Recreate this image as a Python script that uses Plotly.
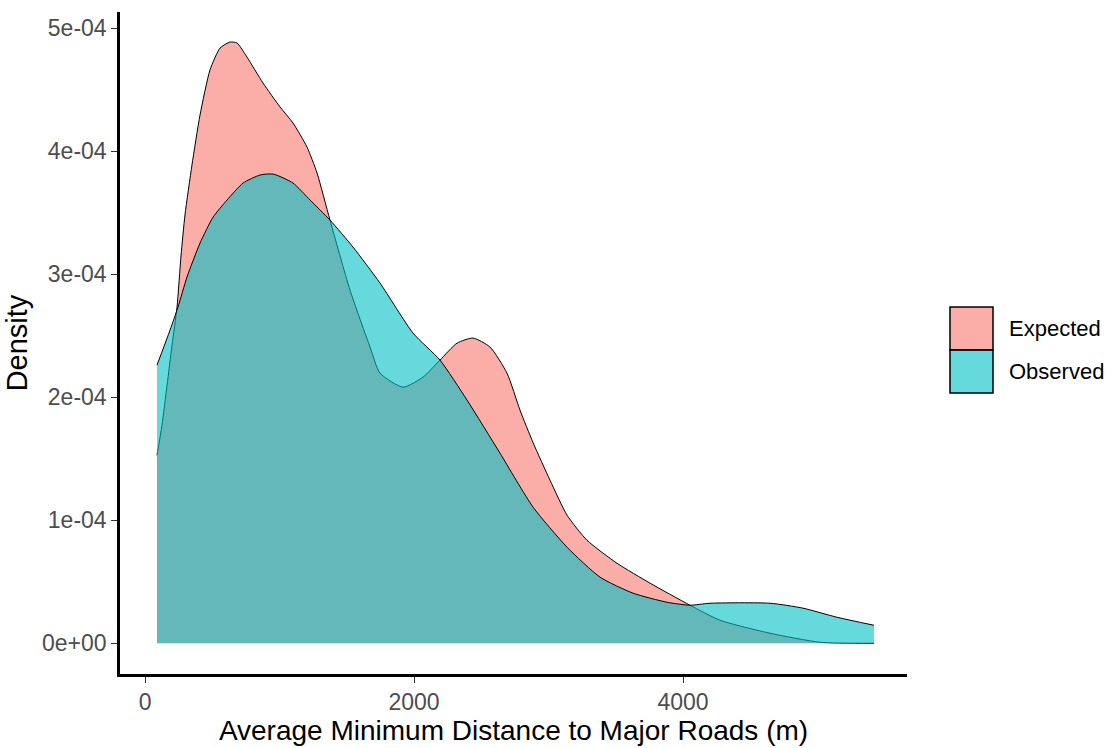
import plotly.graph_objects as go

# ---- data ----
expected_x = [89, 126, 164, 201, 238, 268, 297, 349, 409, 483, 558, 632, 684, 758, 877,
              1004, 1100, 1204, 1279, 1375, 1524, 1673, 1747, 1918, 2067, 2193, 2320,
              2439, 2565, 2691, 2788, 2885, 3011, 3138, 3286, 3509, 3755, 4052, 4275,
              4647, 5019, 5420]
expected_y = [1.528, 1.772, 2.098, 2.423, 2.732, 3.154, 3.480, 3.886, 4.293, 4.659, 4.837,
              4.886, 4.878, 4.764, 4.553, 4.358, 4.228, 4.033, 3.821, 3.439, 2.870, 2.407,
              2.195, 2.081, 2.163, 2.301, 2.439, 2.480, 2.407, 2.195, 1.894, 1.630, 1.325,
              1.040, 0.837, 0.650, 0.488, 0.309, 0.187, 0.081, 0.008, 0.0]
observed_x = [89, 186, 245, 312, 409, 506, 610, 729, 855, 952, 1100, 1227, 1375, 1546,
              1747, 1993, 2193, 2394, 2639, 2885, 3138, 3383, 3628, 3881, 4052, 4201,
              4647, 4892, 5145, 5420]
observed_y = [2.260, 2.545, 2.732, 2.976, 3.252, 3.463, 3.602, 3.740, 3.805, 3.813, 3.740,
              3.602, 3.439, 3.220, 2.927, 2.520, 2.301, 1.976, 1.545, 1.106, 0.780, 0.537,
              0.407, 0.333, 0.309, 0.325, 0.325, 0.285, 0.211, 0.146]
y_scale = 1e-4

groups = ["Expected", "Observed"]
x_ticks = [0, 2000, 4000]
x_tick_labels = ["0", "2000", "4000"]
y_ticks = [0, 1e-4, 2e-4, 3e-4, 4e-4, 5e-4]
y_tick_labels = ["0e+00", "1e-04", "2e-04", "3e-04", "4e-04", "5e-04"]

# ---- styling ----
FONT = "Arial, Liberation Sans, sans-serif"
fills = {"Expected": "rgba(248,118,109,0.6)", "Observed": "rgba(0,191,196,0.6)"}
W, H = 1113, 748
L, R, T, B = 120, 206, 12, 74

fig = go.Figure()
for name, xs, ys in [("Expected", expected_x, expected_y),
                     ("Observed", observed_x, observed_y)]:
    fig.add_trace(go.Scatter(
        x=xs, y=[v * y_scale for v in ys], name=name, mode="lines",
        line=dict(color="black", width=1, shape="spline", smoothing=0.6),
        fill="tozeroy", fillcolor=fills[name], showlegend=False,
        hoverinfo="skip"))

fig.update_layout(
    width=W, height=H,
    margin=dict(l=L, r=R, t=T, b=B),
    paper_bgcolor="white", plot_bgcolor="white",
    font=dict(family=FONT, color="black"),
    showlegend=False,
)
fig.update_xaxes(
    range=[-186, 5665], showgrid=False, zeroline=False, automargin=False,
    showline=True, linecolor="black", linewidth=2.5,
    tickmode="array", tickvals=x_ticks, ticktext=x_tick_labels,
    ticks="outside", ticklen=6, tickwidth=1, tickcolor="#333333",
    tickfont=dict(family=FONT, size=23, color="#4D4D4D"),
    title=dict(text="Average Minimum Distance to Major Roads (m)",
               font=dict(family=FONT, size=28, color="black"), standoff=6),
)
fig.update_yaxes(
    range=[-0.25e-4, 5.13e-4], showgrid=False, zeroline=False, automargin=False,
    showline=True, linecolor="black", linewidth=2.5,
    tickmode="array", tickvals=y_ticks, ticktext=y_tick_labels,
    ticks="outside", ticklen=6, tickwidth=1, tickcolor="#333333",
    tickfont=dict(family=FONT, size=23, color="#4D4D4D"),
    title=dict(text="Density", font=dict(family=FONT, size=29, color="black"),
               standoff=6),
)

# ---- manual legend (ggplot-style keys) ----
pw = W - L - R
ph = H - T - B
def px(xp):
    return (xp - L) / pw
def py(yp):
    return (H - B - yp) / ph

key_x0, key_x1 = 950, 993
key_rows = [(307, 350), (350, 393)]
for name, (y0, y1) in zip(groups, key_rows):
    fig.add_shape(type="rect", xref="paper", yref="paper",
                  x0=px(key_x0), x1=px(key_x1), y0=py(y1), y1=py(y0),
                  fillcolor=fills[name], line=dict(color="black", width=1.5))
    fig.add_annotation(xref="paper", yref="paper", x=px(1007), y=py((y0 + y1) / 2),
                       text=name, showarrow=False, xanchor="left", yanchor="middle",
                       font=dict(family=FONT, size=22, color="black"))

fig.write_html("out.html")
